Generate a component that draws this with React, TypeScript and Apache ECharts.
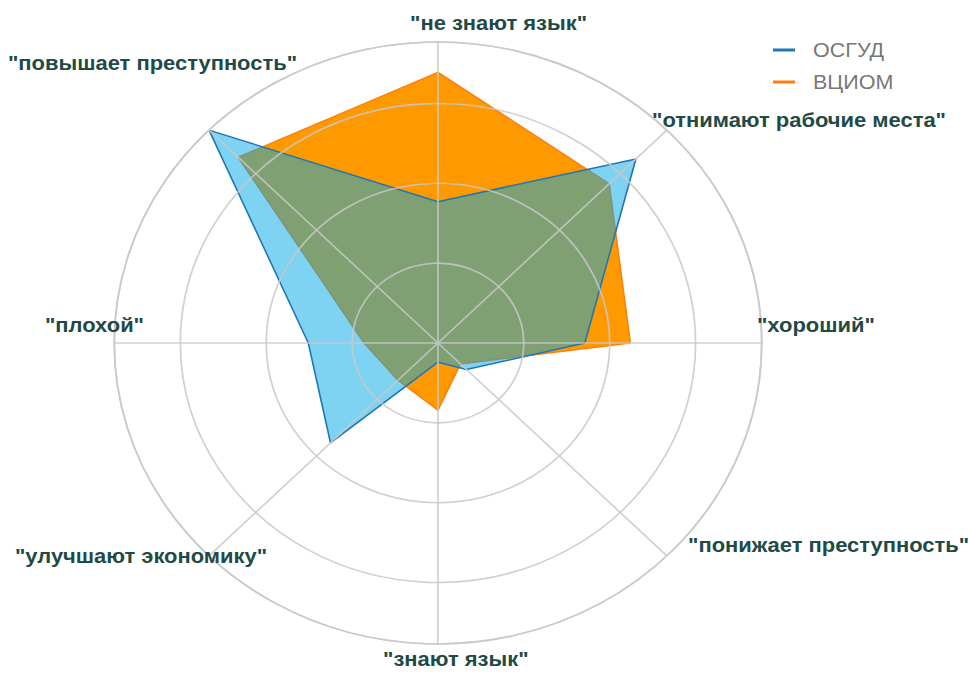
import React, { useEffect, useRef } from "react";
import * as echarts from "echarts";

// Categories in clockwise order starting at the top
const categories = [
  '"не знают язык"',
  '"отнимают рабочие места"',
  '"хороший"',
  '"понижает преступность"',
  '"знают язык"',
  '"улучшают экономику"',
  '"плохой"',
  '"повышает преступность"',
];
const seriesNames = ["ОСГУД", "ВЦИОМ"];
const osgudValues = [17.7, 32.6, 17.1, 4.7, 2.4, 17.7, 15.1, 37.7];
const vciomValues = [33.9, 28.2, 22.4, 3.7, 8.4, 6.6, 8.6, 32.9];
const radialInterval = 10;
const radialMax = 37.7;

// label placement (left x, middle y) in chart pixels
const labelLayout = [
  [381.2, 22.4],
  [606.2, 119.6],
  [703.8, 324.8],
  [639.7, 545],
  [356.1, 659],
  [13.9, 556],
  [41.8, 324.8],
  [7.4, 62.4],
];

const CHART_W = 900;
const CHART_H = 675;
const STRETCH = 968 / 900;

export default function App() {
  const ref = useRef<HTMLDivElement>(null);
  useEffect(() => {
    if (!ref.current) return;
    const chart = echarts.init(ref.current, undefined, { renderer: "svg" });
    const step = 360 / categories.length;
    const toPolar = (vals: number[]) => {
      const pts = vals.map((v, i) => [v, i * step]);
      pts.push([vals[0], 360]);
      return pts;
    };
    const gridColor = "rgba(200,200,200,0.85)";
    chart.setOption({
      animation: false,
      backgroundColor: "#ffffff",
      polar: { center: [407.2, 343], radius: 301 },
      angleAxis: {
        type: "value",
        min: 0,
        max: 360,
        interval: step,
        startAngle: 90,
        clockwise: true,
        z: 10,
        axisLine: { show: true, lineStyle: { color: gridColor, width: 1.6 } },
        axisTick: { show: false },
        axisLabel: { show: false },
        splitLine: { show: true, lineStyle: { color: gridColor, width: 1.6 } },
      },
      radiusAxis: {
        type: "value",
        min: 0,
        max: radialMax,
        interval: radialInterval,
        z: 10,
        axisLine: { show: false },
        axisTick: { show: false },
        axisLabel: { show: false },
        splitLine: { show: true, lineStyle: { color: gridColor, width: 1.6 } },
      },
      legend: {
        orient: "vertical",
        left: 718.7,
        top: 40,
        padding: 0,
        itemGap: 12,
        icon: "rect",
        itemWidth: 20.5,
        itemHeight: 3,
        data: [seriesNames[0], seriesNames[1]],
        textStyle: {
          color: "#777777",
          fontSize: 20,
          fontFamily: "Liberation Sans",
          padding: [0, 0, 0, 11.7],
        },
      },
      series: [
        {
          name: seriesNames[1],
          type: "line",
          coordinateSystem: "polar",
          data: toPolar(vciomValues),
          symbol: "none",
          color: "#ff7f0e",
          lineStyle: { color: "#ff7f0e", width: 1.5 },
          areaStyle: { color: "#ff9900", opacity: 1 },
          z: 2,
        },
        {
          name: seriesNames[0],
          type: "line",
          coordinateSystem: "polar",
          data: toPolar(osgudValues),
          symbol: "none",
          color: "#1f77b4",
          lineStyle: { color: "#1f77b4", width: 1.5 },
          areaStyle: { color: "rgb(0,167,229)", opacity: 0.5 },
          z: 3,
        },
      ],
      graphic: categories.map((name, i) => ({
        type: "text",
        x: labelLayout[i][0],
        y: labelLayout[i][1],
        z: 20,
        style: {
          text: name,
          fill: "#1f4a46",
          font: 'bold 20.4px "Liberation Sans"',
          align: "left",
          verticalAlign: "middle",
        },
      })),
    });
    return () => chart.dispose();
  }, []);
  return (
    <div
      style={{
        position: "fixed",
        left: 0,
        top: 0,
        width: CHART_W,
        height: CHART_H,
        transform: `scaleX(${STRETCH})`,
        transformOrigin: "0 0",
        background: "#fff",
      }}
    >
      <div ref={ref} style={{ width: CHART_W, height: CHART_H }} />
    </div>
  );
}
